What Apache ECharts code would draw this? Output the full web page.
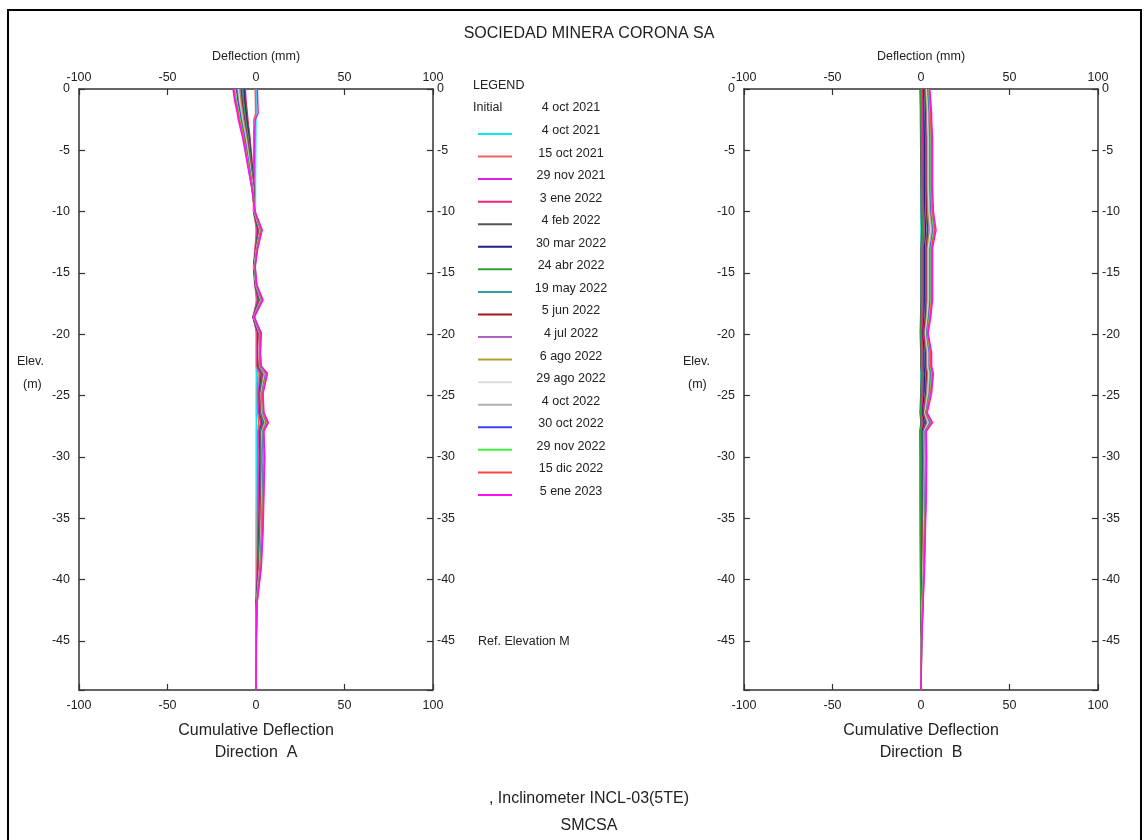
<!DOCTYPE html>
<html>
<head>
<meta charset="utf-8">
<script src="https://cdn.jsdelivr.net/npm/echarts@6/dist/echarts.min.js"></script>
<style>html,body{margin:0;padding:0;background:#fff}#chart{width:1144px;height:840px}</style>
</head>
<body>
<div id="chart"></div>
<script>
// ---- data ----
const ELEVATION = [0, -1, -2, -2.5, -4, -6, -8, -10, -11.5, -13, -14.5, -16, -17.2, -18.6, -19.9, -21.5, -22.6, -23.2, -24.8, -26.4, -27.2, -27.9, -30, -33, -36, -39, -42, -45, -49];
const SERIES_NAMES = ['4 oct 2021', '15 oct 2021', '29 nov 2021', '3 ene 2022', '4 feb 2022', '30 mar 2022', '24 abr 2022', '19 may 2022', '5 jun 2022', '4 jul 2022', '6 ago 2022', '29 ago 2022', '4 oct 2022', '30 oct 2022', '29 nov 2022', '15 dic 2022', '5 ene 2023'];
const COLORS = ['#10E8F0', '#F06060', '#E020E0', '#F02080', '#555555', '#202080', '#30A030', '#30A0A0', '#A01818', '#B060C0', '#B0A030', '#DDDDDD', '#B0B0B0', '#4040F0', '#40F040', '#FF4040', '#FF10F0'];
const X_TICKS = [-100, -50, 0, 50, 100];
const INITIAL_DATE = '4 oct 2021';

// Direction A cumulative deflection (mm), one array per reading
const A01 = [0.2, 0.1, 0.1, 0, -0.1, -0.2, -0.3, -0.3, 0, -0.2, -0.3, -0.2, 0.1, -0.3, 0, 0, 0, 0.2, 0.1, 0.1, 0.2, 0.1, 0.1, 0.1, 0, 0, 0, 0, 0];
const A02 = [-0.5, -0.3, -0.2, -1.2, -1.3, -1.4, -1.4, -1.4, 0.4, -0.6, -1.4, -0.7, 0.5, -1.7, 0.4, 0.3, 0.4, 1.2, 0.8, 1, 1.5, 1, 1, 0.9, 0.7, 0.5, 0.1, 0, 0];
const A03 = [0.8, 1, 1.2, -0.5, -0.8, -1, -1.2, -1.3, 0.8, -0.3, -1.3, -0.5, 1, -1.7, 0.8, 0.7, 0.8, 2.2, 1.4, 1.6, 2.5, 1.6, 1.7, 1.5, 1.2, 0.9, 0.1, 0, 0];
const A04 = [-6, -5.6, -4.9, -4.6, -3.4, -2.2, -1.2, -1.3, 1.2, -0.1, -1.3, -0.3, 1.5, -1.6, 1.2, 1, 1.2, 2.9, 1.8, 2, 3.2, 2, 2.2, 2, 1.5, 1.2, 0.2, 0, 0];
const A05 = [-6.5, -6, -5.3, -5, -3.7, -2.4, -1.3, -1.3, 1.3, 0, -1.3, -0.3, 1.7, -1.6, 1.3, 1.1, 1.3, 3.1, 1.9, 2.2, 3.5, 2.2, 2.4, 2.2, 1.7, 1.3, 0.2, 0, 0];
const A06 = [-7, -6.5, -5.8, -5.4, -4, -2.6, -1.4, -1.2, 1.5, 0.1, -1.2, -0.2, 1.9, -1.6, 1.4, 1.2, 1.4, 3.4, 2.1, 2.4, 3.8, 2.4, 2.6, 2.4, 1.9, 1.4, 0.2, 0.1, 0];
const A07 = [-7.5, -7, -6.2, -5.8, -4.3, -2.8, -1.4, -1.2, 1.6, 0.1, -1.2, -0.2, 2, -1.5, 1.5, 1.3, 1.5, 3.6, 2.2, 2.5, 4, 2.5, 2.8, 2.5, 2, 1.5, 0.2, 0.1, 0];
const A08 = [-8, -7.5, -6.6, -6.2, -4.6, -3, -1.5, -1.1, 1.8, 0.2, -1.1, -0.1, 2.2, -1.5, 1.6, 1.4, 1.6, 3.9, 2.4, 2.7, 4.3, 2.7, 3, 2.7, 2.2, 1.6, 0.3, 0.1, 0];
const A09 = [-8.5, -7.9, -7, -6.6, -4.9, -3.2, -1.6, -1.1, 1.9, 0.2, -1.1, -0.1, 2.4, -1.5, 1.7, 1.5, 1.7, 4.1, 2.5, 2.9, 4.6, 2.9, 3.2, 2.9, 2.4, 1.7, 0.3, 0.1, 0];
const A10 = [-9, -8.4, -7.4, -7, -5.2, -3.4, -1.7, -1, 2.1, 0.3, -1, 0, 2.6, -1.4, 1.9, 1.6, 1.9, 4.4, 2.7, 3.1, 4.9, 3.1, 3.4, 3.1, 2.6, 1.9, 0.3, 0.1, 0];
const A11 = [-9.5, -8.8, -7.8, -7.3, -5.5, -3.6, -1.8, -1, 2.3, 0.4, -1, 0, 2.8, -1.4, 2, 1.7, 2, 4.7, 2.9, 3.3, 5.2, 3.3, 3.6, 3.3, 2.8, 2, 0.3, 0.1, 0];
const A12 = [-10, -9.3, -8.2, -7.7, -5.8, -3.8, -1.9, -0.9, 2.5, 0.5, -0.9, 0.1, 3, -1.3, 2.2, 1.8, 2.2, 5, 3.1, 3.5, 5.5, 3.5, 3.9, 3.5, 3, 2.2, 0.4, 0.1, 0];
const A13 = [-10.5, -9.8, -8.5, -8, -6, -4, -2, -0.9, 2.6, 0.5, -0.9, 0.1, 3.1, -1.3, 2.3, 1.9, 2.3, 5.2, 3.2, 3.6, 5.7, 3.6, 4, 3.6, 3.1, 2.3, 0.4, 0.1, 0];
const A14 = [-11, -10.2, -9, -8.5, -6.4, -4.2, -2.1, -0.8, 2.8, 0.6, -0.8, 0.2, 3.3, -1.3, 2.4, 2, 2.4, 5.5, 3.4, 3.8, 6, 3.8, 4.2, 3.8, 3.3, 2.4, 0.4, 0.1, 0];
const A15 = [-12, -11, -9.5, -9, -6.8, -4.5, -2.3, -0.7, 3, 0.7, -0.7, 0.3, 3.5, -1.2, 2.6, 2.1, 2.6, 5.8, 3.6, 4, 6.3, 4, 4.5, 4, 3.5, 2.6, 0.4, 0.1, 0];
const A16 = [-12.5, -11.5, -10, -9.5, -7, -4.8, -2.4, -0.6, 3.2, 0.8, -0.6, 0.4, 3.7, -1.1, 2.8, 2.3, 2.8, 6.1, 3.8, 4.2, 6.6, 4.2, 4.7, 4.2, 3.7, 2.8, 0.5, 0.2, 0];
const A17 = [-13, -12, -10.5, -10, -7.5, -5, -2.5, -0.5, 3.5, 1, -0.5, 0.5, 4, -1, 3, 2.5, 3, 6.5, 4, 4.5, 7, 4.5, 5, 4.5, 4, 3, 0.5, 0.2, 0];

// Direction B cumulative deflection (mm)
const B01 = [0, 0, 0, 0, 0, 0, 0, 0, 0, 0, 0, 0, 0, 0, 0, 0, 0, 0, 0, 0, 0, 0, 0, 0, 0, 0, 0, 0, 0];
const B02 = [0.3, 0.3, 0.4, 0.4, 0.4, 0.4, 0.4, 0.5, 0.6, 0.4, 0.4, 0.4, 0.4, 0.3, 0.2, 0.4, 0.4, 0.5, 0.4, 0.2, 0.4, 0.2, 0.2, 0.2, 0.1, 0.1, 0.1, 0, 0];
const B03 = [0.6, 0.7, 0.8, 0.8, 0.9, 0.9, 0.9, 1, 1.2, 0.9, 0.9, 0.9, 0.9, 0.7, 0.5, 0.8, 0.8, 1, 0.8, 0.4, 0.9, 0.4, 0.4, 0.4, 0.3, 0.3, 0.2, 0.1, 0];
const B04 = [1, 1.1, 1.2, 1.2, 1.3, 1.3, 1.3, 1.5, 1.8, 1.3, 1.3, 1.3, 1.3, 1.1, 0.8, 1.2, 1.2, 1.5, 1.2, 0.7, 1.3, 0.6, 0.6, 0.6, 0.5, 0.4, 0.2, 0.1, 0];
const B05 = [-0.5, -0.4, -0.3, -0.3, -0.2, -0.1, 0, 0.1, 0.4, 0, 0, 0, 0, -0.2, -0.4, -0.1, -0.1, 0.2, -0.1, -0.5, 0, -0.6, -0.5, -0.5, -0.4, -0.3, -0.2, -0.1, 0];
const B06 = [1.5, 1.7, 1.8, 1.8, 2, 2, 2, 2.2, 2.7, 2, 2, 2, 2, 1.7, 1.2, 1.8, 1.8, 2.2, 1.8, 1, 2, 0.9, 1, 0.9, 0.8, 0.6, 0.4, 0.1, 0];
const B07 = [-0.3, -0.2, 0, 0, 0.2, 0.3, 0.4, 0.5, 0.8, 0.4, 0.4, 0.4, 0.4, 0.2, -0.1, 0.3, 0.3, 0.6, 0.3, -0.2, 0.4, -0.4, -0.3, -0.3, -0.3, -0.2, -0.1, 0, 0];
const B08 = [2, 2.2, 2.4, 2.4, 2.6, 2.6, 2.6, 2.8, 3.4, 2.6, 2.6, 2.6, 2.6, 2.2, 1.6, 2.4, 2.4, 2.8, 2.4, 1.4, 2.6, 1.2, 1.3, 1.2, 1, 0.8, 0.5, 0.2, 0];
const B09 = [2.3, 2.5, 2.7, 2.7, 3, 3, 3, 3.2, 3.9, 3, 3, 3, 3, 2.5, 1.8, 2.7, 2.7, 3.2, 2.7, 1.6, 3, 1.4, 1.5, 1.4, 1.2, 0.9, 0.5, 0.2, 0];
const B10 = [2.7, 3, 3.2, 3.2, 3.5, 3.5, 3.5, 3.8, 4.6, 3.5, 3.5, 3.5, 3.5, 3, 2.2, 3.2, 3.2, 3.8, 3.2, 1.9, 3.5, 1.6, 1.7, 1.6, 1.4, 1.1, 0.6, 0.2, 0];
const B11 = [3, 3.3, 3.6, 3.6, 3.9, 3.9, 3.9, 4.2, 5.1, 3.9, 3.9, 3.9, 3.9, 3.3, 2.4, 3.6, 3.6, 4.2, 3.6, 2.1, 3.9, 1.8, 1.9, 1.8, 1.5, 1.2, 0.7, 0.2, 0];
const B12 = [3.3, 3.6, 3.9, 3.9, 4.2, 4.2, 4.2, 4.6, 5.5, 4.2, 4.2, 4.2, 4.2, 3.6, 2.6, 3.9, 3.9, 4.6, 3.9, 2.3, 4.2, 2, 2.1, 2, 1.6, 1.3, 0.8, 0.3, 0];
const B13 = [3.6, 4, 4.3, 4.3, 4.7, 4.7, 4.7, 5, 6.1, 4.7, 4.7, 4.7, 4.7, 4, 2.9, 4.3, 4.3, 5, 4.3, 2.5, 4.7, 2.2, 2.3, 2.2, 1.8, 1.4, 0.9, 0.3, 0];
const B14 = [4, 4.4, 4.8, 4.8, 5.2, 5.2, 5.2, 5.6, 6.8, 5.2, 5.2, 5.2, 5.2, 4.4, 3.2, 4.8, 4.8, 5.6, 4.8, 2.8, 5.2, 2.4, 2.6, 2.4, 2, 1.6, 1, 0.3, 0];
const B15 = [4.3, 4.7, 5.1, 5.1, 5.6, 5.6, 5.6, 6, 7.2, 5.6, 5.6, 5.6, 5.6, 4.7, 3.4, 5.1, 5.1, 6, 5.1, 3, 5.6, 2.6, 2.8, 2.6, 2.2, 1.7, 1, 0.3, 0];
const B16 = [4.6, 5.1, 5.5, 5.5, 6, 6, 6, 6.5, 7.8, 6, 6, 6, 6, 5.1, 3.7, 5.5, 5.5, 6.5, 5.5, 3.2, 6, 2.8, 3, 2.8, 2.3, 1.8, 1.1, 0.4, 0];
const B17 = [5, 5.5, 6, 6, 6.5, 6.5, 6.5, 7, 8.5, 6.5, 6.5, 6.5, 6.5, 5.5, 4, 6, 6, 7, 6, 3.5, 6.5, 3, 3.2, 3, 2.5, 2, 1.2, 0.4, 0];

const DIR_A = [A01, A02, A03, A04, A05, A06, A07, A08, A09, A10, A11, A12, A13, A14, A15, A16, A17];
const DIR_B = [B01, B02, B03, B04, B05, B06, B07, B08, B09, B10, B11, B12, B13, B14, B15, B16, B17];

// ---- chart ----
const FF = '"Liberation Sans", Arial, sans-serif';
const TXT = '#222';
const AX = '#333';

function xAxes(gi) {
  const base = {
    gridIndex: gi, type: 'value', min: -100, max: 100, interval: 50,
    axisLine: { show: true, onZero: false, lineStyle: { color: AX, width: 1.5 } },
    axisTick: { show: true, inside: true, length: 6, lineStyle: { color: AX, width: 1.2 } },
    splitLine: { show: false },
  };
  return [
    Object.assign({}, base, { position: 'bottom', axisLabel: { margin: 9, color: TXT, fontSize: 12.5, fontFamily: FF, showMinLabel: true, showMaxLabel: true } }),
    Object.assign({}, base, { position: 'top', axisLabel: { margin: 5, color: TXT, fontSize: 12.5, fontFamily: FF, showMinLabel: true, showMaxLabel: true } })
  ];
}
function yFmt(v) { if (v % 5 !== 0) return ''; return v === 0 ? '0' : '-' + v; }
function yAxes(gi) {
  const base = {
    gridIndex: gi, type: 'value', inverse: true, min: 0, max: 49, interval: 5,
    axisLine: { show: true, onZero: false, lineStyle: { color: AX, width: 1.5 } },
    axisTick: { show: true, inside: true, length: 6, lineStyle: { color: AX, width: 1.2 } },
    splitLine: { show: false },
  };
  return [
    Object.assign({}, base, { position: 'left', axisLabel: { margin: 9, color: TXT, fontSize: 12.5, fontFamily: FF, formatter: yFmt, showMinLabel: true } }),
    Object.assign({}, base, { position: 'right', axisLabel: { margin: 4, color: TXT, fontSize: 12.5, fontFamily: FF, formatter: yFmt, showMinLabel: true } })
  ];
}

const series = [];
[DIR_A, DIR_B].forEach((dir, g) => {
  dir.forEach((vals, i) => {
    series.push({
      type: 'line', name: SERIES_NAMES[i], xAxisIndex: g * 2, yAxisIndex: g * 2,
      showSymbol: false, symbol: 'none', animation: false,
      lineStyle: { color: COLORS[i], width: 1.5 }, itemStyle: { color: COLORS[i] },
      data: ELEVATION.map((e, j) => [vals[j], -e])
    });
  });
});

function txt(text, x, y, size, align) {
  return { type: 'text', x: x, y: y, silent: true, style: { text: text, fill: TXT, font: size + 'px ' + FF, align: align || 'center', verticalAlign: 'middle' } };
}

const graphics = [
  { type: 'rect', shape: { x: 8, y: 10, width: 1133, height: 860 }, style: { fill: 'none', stroke: '#000', lineWidth: 2 }, silent: true },
  txt('SOCIEDAD MINERA CORONA SA', 589, 34, 16),
  txt('Deflection (mm)', 256, 57, 12.5),
  txt('Deflection (mm)', 921, 57, 12.5),
  txt('Elev.', 17, 362, 12.5, 'left'),
  txt('(m)', 23, 385, 12.5, 'left'),
  txt('Elev.', 683, 362, 12.5, 'left'),
  txt('(m)', 688, 385, 12.5, 'left'),
  txt('Cumulative Deflection', 256, 731, 16),
  txt('Direction  A', 256, 753, 16),
  txt('Cumulative Deflection', 921, 731, 16),
  txt('Direction  B', 921, 753, 16),
  txt(', Inclinometer INCL-03(5TE)', 589, 799, 16),
  txt('SMCSA', 589, 826, 16),
  txt('LEGEND', 473, 86, 12.5, 'left'),
  txt('Initial', 473, 108, 12.5, 'left'),
  txt(INITIAL_DATE, 571, 108, 12.5),
  txt('Ref. Elevation M', 478, 642, 12.5, 'left'),
];
SERIES_NAMES.forEach((n, i) => {
  const ly = 134 + i * 22.56;
  graphics.push({ type: 'line', silent: true, shape: { x1: 478, y1: ly, x2: 512, y2: ly }, style: { stroke: COLORS[i], lineWidth: 2 } });
  graphics.push(txt(n, 571, ly - 3.5, 12.5));
});

const chart = echarts.init(document.getElementById('chart'), null, { renderer: 'canvas' });
chart.setOption({
  animation: false,
  backgroundColor: '#fff',
  grid: [
    { left: 79, top: 89, width: 354, height: 601, containLabel: false, outerBoundsMode: 'none' },
    { left: 744, top: 89, width: 354, height: 601, containLabel: false, outerBoundsMode: 'none' }
  ],
  xAxis: xAxes(0).concat(xAxes(1)),
  yAxis: yAxes(0).concat(yAxes(1)),
  series: series,
  graphic: graphics
});
</script>
</body>
</html>
